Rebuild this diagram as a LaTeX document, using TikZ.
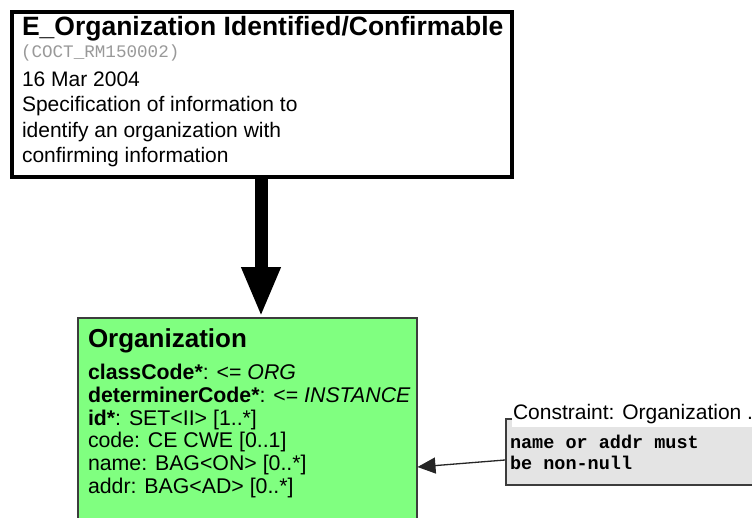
\documentclass[tikz,border=0pt]{standalone}
\usepackage{fontspec}
\setmainfont{Liberation Sans}
\setmonofont{Liberation Mono}
\usetikzlibrary{arrows.meta}
\definecolor{orggreen}{RGB}{128,255,128}
\definecolor{notegray}{RGB}{228,228,228}
\definecolor{edgegray}{RGB}{60,60,60}
\tikzset{
  txt/.style={anchor=base west, inner sep=0pt, outer sep=0pt},
  ttl/.style={txt, font=\fontsize{26.5}{30}\selectfont\bfseries},
  ttlb/.style={txt, font=\fontsize{26}{30}\selectfont\bfseries},
  reg/.style={txt, font=\fontsize{21}{25}\selectfont},
  attr/.style={txt, font=\fontsize{21.3}{23}\selectfont},
  code/.style={txt, font=\fontsize{17.6}{20}\selectfont\ttfamily, text=black!40},
  mono/.style={txt, font=\fontsize{18.5}{20}\selectfont\ttfamily\bfseries},
  bigarrow/.style={line width=13pt, -{Triangle[width=36pt,length=50pt]}},
  smallarrow/.style={line width=1.3pt, draw=black!85, -{Triangle[width=16pt,length=18pt]}}
}
\begin{document}
\begin{tikzpicture}[x=1pt,y=1pt]
\clip (0,0) rectangle (752,-517);
\fill[white] (0,0) rectangle (752,-517);
% top box
\node[draw, line width=4pt, minimum width=500pt, minimum height=165pt, anchor=north west, inner sep=0pt] (top) at (10,-10) {};
\node[ttl] (t1) at (22,-35) {E\_Organization Identified/Confirmable};
\node[code] (t2) at (21,-57) {(COCT\_RM150002)};
\node[reg] (t3) at (22,-86) {16 Mar 2004};
\node[reg] (t4) at (22,-111) {Specification of information to};
\node[reg] (t5) at (22,-137) {identify an organization with};
\node[reg] (t6) at (22,-162) {confirming information};
% organization box
\node[draw=edgegray, fill=orggreen, line width=1.5pt, minimum width=339pt, minimum height=260pt, anchor=north west, inner sep=0pt] (org) at (77,-317) {};
\node[ttlb] (o0) at (88,-347) {Organization};
\node[attr] (o1) at (88,-379) {\textbf{classCode*}: <= \textit{ORG}};
\node[attr] (o2) at (88,-402) {\textbf{determinerCode*}: <= \textit{INSTANCE}};
\node[attr] (o3) at (88,-425) {\textbf{id*}: SET<II> [1..*]};
\node[attr] (o4) at (88,-447) {code: CE CWE [0..1]};
\node[attr] (o5) at (88,-470) {name: BAG<ON> [0..*]};
\node[attr] (o6) at (88,-493) {addr: BAG<AD> [0..*]};
% generalization arrow
\coordinate (a1) at (261,-175);
\draw[bigarrow] (a1) -- (a1 |- org.north);
% constraint note
\node[draw=edgegray, fill=notegray, line width=1.6pt, minimum width=270pt, minimum height=66pt, anchor=north west, inner sep=0pt] (note) at (505,-418) {};
\node[txt, fill=white, inner ysep=4pt, inner xsep=1pt, font=\fontsize{21}{25}\selectfont] (nt) at (512,-419) {Constraint: Organization .};
\node[mono] (n1) at (510,-448) {name or addr must};
\node[mono] (n2) at (510,-469) {be non-null};
\coordinate (c1) at (505,-460);
\draw[smallarrow] (c1) -- (org.east |- 0,-467);
\end{tikzpicture}
\end{document}
